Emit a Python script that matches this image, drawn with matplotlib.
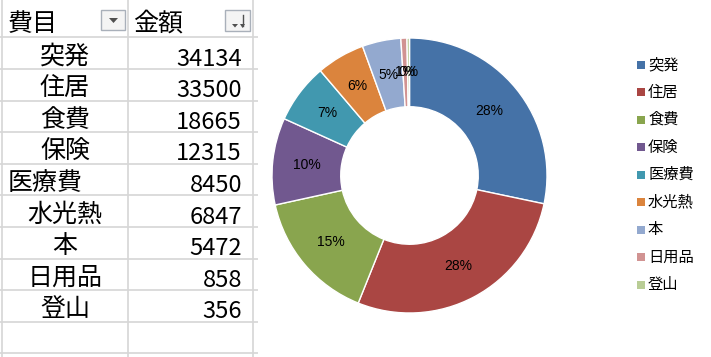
import matplotlib
matplotlib.use("Agg")
import matplotlib.pyplot as plt
from matplotlib.patches import Rectangle, Polygon

plt.rcParams['font.family'] = ['Noto Sans CJK JP', 'DejaVu Sans']

# ---- data ----
header = ["費目", "金額"]
categories = ["突発", "住居", "食費", "保険", "医療費", "水光熱", "本", "日用品", "登山"]
amounts = [34134, 33500, 18665, 12315, 8450, 6847, 5472, 858, 356]
colors = ["#4572A7", "#AA4643", "#89A54E", "#71588F", "#4198AF",
          "#DB843D", "#93A9CF", "#D19392", "#B9CD96"]

W, H = 711, 357
fig = plt.figure(figsize=(W / 100, H / 100), dpi=100)
fig.patch.set_facecolor("white")

# overlay axes in pixel coordinates
ax0 = fig.add_axes([0, 0, 1, 1])
ax0.set_xlim(0, W)
ax0.set_ylim(H, 0)
ax0.axis("off")

grid_c = "#D6D6D6"
row_top = 37.3
row_h = 31.6
# horizontal grid lines
for k in range(11):
    y = row_top + row_h * k
    ax0.plot([0, 258], [y, y], color=grid_c, lw=1.2, solid_capstyle="butt")
# vertical grid lines
for x in [2, 127.5, 253]:
    ax0.plot([x, x], [0, H], color=grid_c, lw=1.2, solid_capstyle="butt")

# header
ax0.text(8, 24, header[0], fontsize=18, ha="left", va="center", color="black")
ax0.text(133, 24, header[1], fontsize=18, ha="left", va="center", color="black")

# filter buttons
ax0.add_patch(Rectangle((101, 9.5), 24, 20, facecolor="#F4F4F4", edgecolor="#A9B0BA", lw=1.0))
ax0.add_patch(Polygon([[109, 18], [118, 18], [113.5, 23]], closed=True, facecolor="#505050", edgecolor="none"))
ax0.add_patch(Rectangle((225, 9.5), 25, 21, facecolor="#F4F4F4", edgecolor="#A9B0BA", lw=1.0))
ax0.add_patch(Polygon([[232, 24], [238, 24], [235, 27.5]], closed=True, facecolor="#505050", edgecolor="none"))
ax0.plot([242.5, 242.5], [15, 26], color="#505050", lw=1.0)
ax0.add_patch(Polygon([[240, 24], [245, 24], [242.5, 28]], closed=True, facecolor="#505050", edgecolor="none"))

# table body
name_left = {"医療費": 8}
for i, (name, val) in enumerate(zip(categories, amounts)):
    yc = row_top + row_h * i + row_h / 2
    if name in name_left:
        ax0.text(name_left[name], yc + 3.5, name, fontsize=18, ha="left", va="center")
    else:
        ax0.text(65, yc + 3.5, name, fontsize=18, ha="center", va="center")
    ax0.text(242, yc + 6, str(val), fontsize=17, ha="right", va="center")

# legend (manual)
leg_y0, leg_dy = 64.5, 27.5
for i, (name, c) in enumerate(zip(categories, colors)):
    y = leg_y0 + leg_dy * i
    ax0.add_patch(Rectangle((637, y - 4), 8, 8, facecolor=c, edgecolor="none"))
    ax0.text(648, y, name, fontsize=11, ha="left", va="center")

# donut chart
cx, cy, R = 409.5, 175.5, 137.5
box = 140
ax1 = fig.add_axes([(cx - box) / W, (H - cy - box) / H, 2 * box / W, 2 * box / H])
ax1.set_xlim(-1, 1)
ax1.set_ylim(-1, 1)
ax1.set_aspect("equal")
ax1.axis("off")
r = R / box
wedges, texts, autotexts = ax1.pie(
    amounts, colors=colors, startangle=90, counterclock=False, radius=r,
    autopct=lambda p: "%.0f%%" % p, pctdistance=0.75,
    wedgeprops=dict(width=r * 0.5, edgecolor="white", linewidth=1.0),
    textprops=dict(fontsize=10, color="black", family=["Liberation Sans", "DejaVu Sans"]),
)
ax1.set_xlim(-1, 1)
ax1.set_ylim(-1, 1)

fig.savefig("out.png", dpi=100, facecolor="white")
